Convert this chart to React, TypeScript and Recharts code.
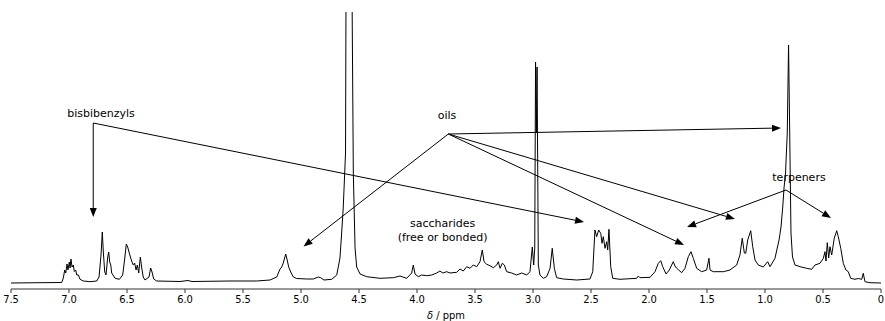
import React from "react";
import {
  LineChart,
  Line,
  XAxis,
  YAxis,
  ReferenceLine,
  ReferenceDot,
} from "recharts";

// 1H NMR spectrum of a liverwort extract.
// ppm = chemical shift (axis runs 7.5 -> 0), intensity in arbitrary units.
const PPM = [
  7.5, 7.25, 7.063, 7.049, 7.037, 7.028, 7.017, 7.009, 6.997, 6.991, 6.983, 6.974, 6.963, 6.954, 6.942,
  6.933, 6.919, 6.905, 6.877, 6.819, 6.761, 6.741, 6.724, 6.713, 6.704, 6.692, 6.681, 6.666, 6.658,
  6.649, 6.64, 6.632, 6.603, 6.566, 6.537, 6.519, 6.506, 6.494, 6.483, 6.468, 6.457, 6.446, 6.434,
  6.422, 6.411, 6.399, 6.385, 6.373, 6.36, 6.345, 6.31, 6.296, 6.284, 6.27, 6.244, 6.043, 5.974,
  5.94, 5.612, 5.382, 5.267, 5.209, 5.181, 5.166, 5.153, 5.132, 5.121, 5.106, 5.089, 5.066, 5.037,
  4.951, 4.894, 4.851, 4.83, 4.802, 4.735, 4.692, 4.664, 4.649, 4.636, 4.616, 4.612, 4.586, 4.56,
  4.549, 4.534, 4.52, 4.491, 4.434, 4.319, 4.204, 4.147, 4.089, 4.046, 4.032, 4.017, 3.989, 3.96,
  3.916, 3.873, 3.83, 3.802, 3.778, 3.744, 3.716, 3.658, 3.629, 3.601, 3.572, 3.543, 3.515, 3.485,
  3.457, 3.437, 3.422, 3.399, 3.371, 3.342, 3.313, 3.299, 3.284, 3.265, 3.247, 3.227, 3.184, 3.141,
  3.097, 3.054, 3.026, 3.006, 2.994, 2.985, 2.978, 2.971, 2.965, 2.954, 2.94, 2.911, 2.882, 2.853,
  2.834, 2.816, 2.796, 2.739, 2.623, 2.509, 2.485, 2.466, 2.451, 2.434, 2.416, 2.405, 2.394, 2.379,
  2.365, 2.356, 2.345, 2.33, 2.313, 2.25, 2.106, 2.092, 2.078, 1.991, 1.948, 1.92, 1.899, 1.882,
  1.853, 1.825, 1.791, 1.776, 1.761, 1.744, 1.718, 1.69, 1.661, 1.638, 1.618, 1.589, 1.546, 1.503,
  1.483, 1.474, 1.446, 1.359, 1.302, 1.244, 1.216, 1.196, 1.178, 1.166, 1.149, 1.123, 1.106, 1.086,
  1.058, 1.015, 0.977, 0.957, 0.914, 0.879, 0.862, 0.847, 0.836, 0.823, 0.808, 0.797, 0.787, 0.776,
  0.763, 0.741, 0.698, 0.641, 0.597, 0.569, 0.526, 0.497, 0.483, 0.474, 0.463, 0.451, 0.44, 0.425,
  0.403, 0.382, 0.368, 0.347, 0.325, 0.302, 0.282, 0.261, 0.224, 0.196, 0.166, 0.153, 0.138, 0.095, 0,
];

const INTENSITY = [
  0, 0.3, 0.5, 5, 13, 10, 19, 13, 21, 15, 24, 16, 18, 11.5, 13,
  8, 8, 3.7, 2, 1.3, 2, 6, 28, 51, 31, 11, 8, 26, 31,
  21, 18, 10, 4.7, 3.7, 8, 25, 39, 36, 31, 25, 21, 18, 20,
  13, 18, 10, 26, 15, 6, 3, 6, 15, 11, 4, 2, 1.5, 2.5,
  1.5, 2, 2, 3, 6, 14, 16, 20, 29, 24, 16, 11, 6, 4.5,
  4, 4, 6, 5.3, 3, 3.7, 8, 25, 51, 75, 130, 290, 700, 290,
  110, 35, 16, 9, 6.3, 4.7, 5.3, 7, 4.7, 10, 18, 9, 6.3, 8,
  7.3, 8, 10, 12, 10, 11.3, 10, 10.7, 14, 12, 16.3, 14.7, 18, 16.3,
  21.3, 33, 21.3, 18.7, 17.3, 15.3, 18, 21.3, 14.7, 19.7, 18, 11.3, 10, 8,
  10, 8, 11.3, 36, 18, 35, 221, 150, 216, 18, 8, 4.7, 6.3, 14.7,
  34.7, 14.7, 5.3, 4, 3, 4, 11.3, 53, 46.3, 53, 49.7, 39.7, 46.3, 34.7,
  41.3, 33, 53.7, 16.3, 4.7, 3.7, 4.7, 7, 5.3, 5.7, 11.3, 19.7, 22.3, 16.3,
  9, 13, 21.3, 17, 14.7, 13, 10.3, 14.7, 26.3, 31.3, 24.7, 14.7, 11.3, 13,
  24.7, 13, 11.3, 11.3, 13, 18, 28, 44.7, 30, 29.7, 43, 52.3, 36.3, 23,
  18, 16, 21.3, 16.3, 24.7, 43, 56, 76, 95, 110, 150, 238, 150, 50,
  26, 18, 16.3, 14.7, 13.7, 18, 19.7, 24.7, 31.3, 22, 40.3, 25, 36.3, 28,
  44.7, 52.3, 46.3, 34.7, 19.7, 13, 11.3, 4.7, 3.7, 4.5, 3.7, 9.7, 1.3, 0.3, 0,
];

const TICKS = [7.5, 7, 6.5, 6, 5.5, 5, 4.5, 4, 3.5, 3, 2.5, 2, 1.5, 1, 0.5, 0];

// annotation labels: [text, ppm, intensity]
const LABELS: [string, number, number][] = [
  ["bisbibenzyls", 6.724, 170],
  ["oils", 3.741, 168],
  ["saccharides", 3.779, 60],
  ["(free or bonded)", 3.779, 46],
  ["terpeners", 0.707, 106],
];

// arrows: [fromPpm, fromI, toPpm, toI]
const ARROWS: [number, number, number, number][] = [
  [6.791, 160, 6.791, 66],
  [6.791, 160, 2.56, 61],
  [3.73, 149, 4.978, 36.5],
  [3.73, 149, 1.698, 38],
  [3.73, 149, 1.259, 64],
  [3.73, 149, 0.862, 155],
  [0.819, 93, 1.672, 56],
  [0.819, 93, 0.431, 65],
];

const data = PPM.map((ppm, i) => ({ ppm, intensity: INTENSITY[i] }));

const TEXT_FONT = "'DejaVu Sans', Verdana, sans-serif";

function ArrowShape(props: any) {
  const { x1, y1, x2, y2 } = props;
  const ang = Math.atan2(y2 - y1, x2 - x1);
  const len = 9;
  const half = 3.5;
  const bx = x2 - len * Math.cos(ang);
  const by = y2 - len * Math.sin(ang);
  const p1 = `${bx + half * Math.sin(ang)},${by - half * Math.cos(ang)}`;
  const p2 = `${bx - half * Math.sin(ang)},${by + half * Math.cos(ang)}`;
  return (
    <g>
      <line x1={x1} y1={y1} x2={bx} y2={by} stroke="#000" strokeWidth={1} />
      <polygon points={`${x2},${y2} ${p1} ${p2}`} fill="#000" />
    </g>
  );
}

function AxisTitle(props: any) {
  const vb = props.viewBox;
  return (
    <text
      x={vb.x + vb.width / 2}
      y={vb.y + 30}
      textAnchor="middle"
      fontSize={11}
      fontFamily="'DejaVu Sans Condensed', 'DejaVu Sans', sans-serif"
      fill="#000"
    >
      <tspan fontStyle="italic">δ</tspan> / ppm
    </text>
  );
}

export default function App() {
  return (
    <div style={{ position: "absolute", left: 0, top: 0, width: 885, height: 321, background: "#fff" }}>
      <LineChart width={885} height={321} data={data} margin={{ top: 12, right: 4, left: 11, bottom: 0 }}>
        <XAxis
          dataKey="ppm"
          type="number"
          domain={[0, 7.5]}
          reversed
          ticks={TICKS}
          interval={0}
          height={32}
          tickSize={4}
          tickMargin={2}
          tickFormatter={(v: number) => (v === 0 ? "0" : v.toFixed(1))}
          tick={{ fontSize: 11, fill: "#000", fontFamily: "'DejaVu Sans Condensed', 'DejaVu Sans', sans-serif" }}
          stroke="#333"
          label={<AxisTitle />}
        />
        <YAxis hide type="number" domain={[-6, 271]} allowDataOverflow />
        <Line
          dataKey="intensity"
          type="linear"
          stroke="#000"
          strokeWidth={1}
          dot={false}
          activeDot={false}
          isAnimationActive={false}
        />
        {ARROWS.map(([fx, fy, tx, ty], i) => (
          <ReferenceLine
            key={`a${i}`}
            segment={[
              { x: fx, y: fy },
              { x: tx, y: ty },
            ]}
            shape={<ArrowShape />}
            ifOverflow="visible"
          />
        ))}
        {LABELS.map(([text, x, y]) => (
          <ReferenceDot
            key={text}
            x={x}
            y={y}
            r={0}
            fill="none"
            stroke="none"
            ifOverflow="visible"
            label={{ value: text, position: "center", fill: "#000", fontSize: 11, fontFamily: TEXT_FONT }}
          />
        ))}
      </LineChart>
    </div>
  );
}
